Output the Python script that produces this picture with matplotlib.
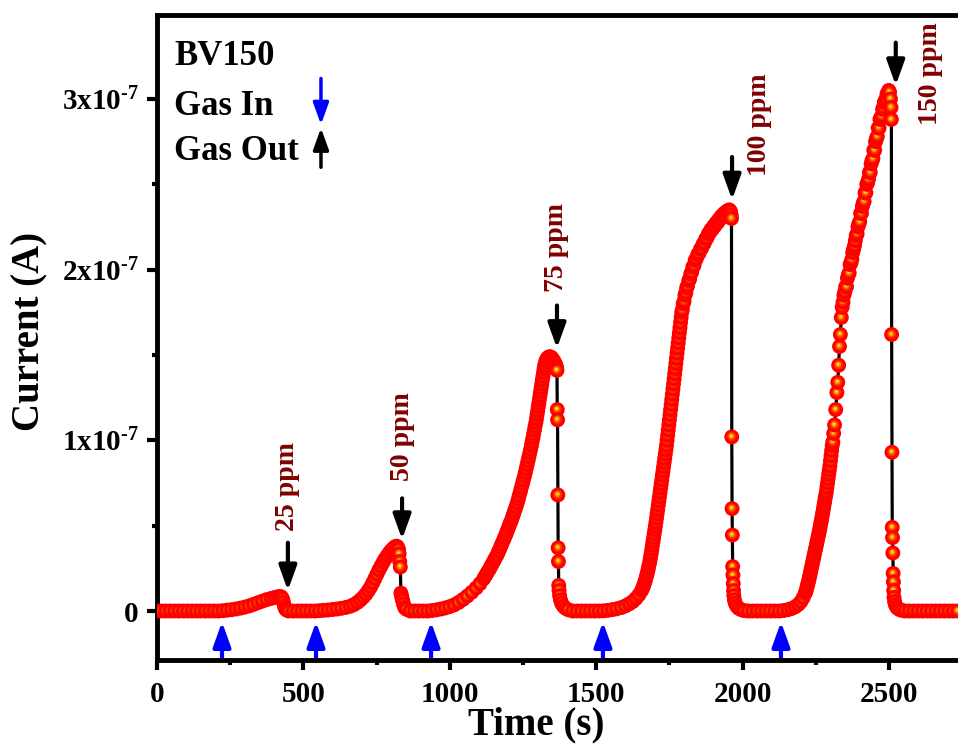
import numpy as np
import matplotlib.pyplot as plt
from matplotlib.path import Path
from matplotlib.transforms import Affine2D

plt.rcParams['font.family'] = 'Liberation Serif'
plt.rcParams['font.weight'] = 'bold'
plt.rcParams['mathtext.fontset'] = 'custom'
plt.rcParams['mathtext.rm'] = 'Liberation Serif:bold'
plt.rcParams['mathtext.default'] = 'rm'

# temps (s) et courant (en unités de 1e-7 A), cycle par cycle
t_25 = [0, 15, 30, 45, 60, 75, 90, 105, 120, 135, 150, 165, 180, 195, 210,
        225, 240, 255, 270, 285, 300, 315, 330, 345, 360, 375, 390,
        402, 412, 420, 425, 429, 432, 435, 438, 442]
i_25 = [0, 0, 0, 0, 0, 0, 0, 0, 0, 0, 0, 0, 0, 0, 0,
        0.002, 0.005, 0.008, 0.012, 0.017, 0.023, 0.03, 0.039, 0.049, 0.058, 0.067, 0.074,
        0.079, 0.083, 0.085, 0.082, 0.07, 0.05, 0.03, 0.015, 0.006]

t_50 = [450, 465, 480, 495, 510, 525, 540, 555, 570, 585, 600, 615, 630, 645, 660,
        672, 684, 695, 705, 714, 722, 730, 737, 744, 751, 758, 765, 772, 779, 786, 793,
        800, 807, 813, 818, 822, 825, 827, 829, 831, 833, 835, 837, 839, 842, 846, 852]
i_50 = [0, 0, 0, 0, 0, 0, 0, 0.002, 0.004, 0.006, 0.009, 0.012, 0.016, 0.021, 0.028,
        0.037, 0.05, 0.065, 0.082, 0.1, 0.12, 0.142, 0.165, 0.19, 0.215, 0.24, 0.263, 0.285,
        0.305, 0.323, 0.34, 0.355, 0.367, 0.376, 0.38, 0.375, 0.36, 0.335, 0.29, 0.258,
        0.105, 0.09, 0.075, 0.06, 0.04, 0.02, 0.01]

t_75 = [865, 880, 895, 910, 925, 940, 955, 970, 985, 1000,
        1015, 1030, 1045, 1060, 1075, 1090, 1103, 1116, 1122, 1128,
        1134, 1140, 1145, 1151, 1156, 1162, 1167, 1172, 1177, 1182,
        1187, 1192, 1196, 1201, 1205, 1210, 1214, 1218, 1222, 1226,
        1230, 1234, 1237, 1241, 1244, 1248, 1251, 1255, 1258, 1261,
        1264, 1267, 1270, 1273, 1276, 1279, 1281, 1284, 1286, 1289,
        1291, 1294, 1296, 1298, 1300, 1302, 1304, 1306, 1308, 1310,
        1312, 1314, 1316, 1318, 1320, 1322, 1324, 1327, 1330, 1333,
        1336, 1340, 1344, 1347, 1350, 1353, 1356, 1358, 1360, 1362,
        1364, 1365, 1366, 1367, 1368, 1369, 1370, 1371, 1372, 1373,
        1375, 1378, 1382, 1388, 1396, 1405]
i_75 = [0, 0, 0, 0, 0, 0.003, 0.007, 0.012, 0.018, 0.026,
        0.036, 0.05, 0.068, 0.088, 0.11, 0.135, 0.16, 0.19, 0.207, 0.225,
        0.242, 0.26, 0.277, 0.295, 0.312, 0.33, 0.35, 0.37, 0.39, 0.41,
        0.43, 0.45, 0.47, 0.49, 0.51, 0.53, 0.55, 0.57, 0.59, 0.61,
        0.632, 0.655, 0.677, 0.7, 0.722, 0.745, 0.767, 0.79, 0.812, 0.835,
        0.857, 0.88, 0.902, 0.925, 0.947, 0.97, 0.992, 1.015, 1.037, 1.06,
        1.082, 1.105, 1.127, 1.15, 1.172, 1.195, 1.217, 1.24, 1.262, 1.285,
        1.307, 1.33, 1.352, 1.375, 1.397, 1.42, 1.44, 1.46, 1.472, 1.48,
        1.486, 1.49, 1.488, 1.485, 1.478, 1.47, 1.462, 1.455, 1.447, 1.44,
        1.43, 1.42, 1.41, 1.18, 1.12, 0.68, 0.37, 0.29, 0.15, 0.12,
        0.09, 0.065, 0.045, 0.028, 0.015, 0.007]

t_100 = [1420, 1435, 1450, 1465, 1480, 1495, 1510, 1525, 1540, 1555,
         1570, 1585, 1600, 1613, 1625, 1636, 1646, 1655, 1659, 1662,
         1665, 1668, 1671, 1674, 1677, 1679, 1682, 1684, 1686, 1688,
         1690, 1692, 1694, 1696, 1698, 1700, 1702, 1704, 1706, 1708,
         1710, 1712, 1714, 1716, 1718, 1720, 1722, 1724, 1726, 1728,
         1730, 1732, 1734, 1736, 1738, 1740, 1742, 1744, 1746, 1748,
         1750, 1752, 1754, 1756, 1758, 1760, 1762, 1764, 1766, 1768,
         1770, 1772, 1774, 1776, 1778, 1780, 1782, 1784, 1786, 1788,
         1790, 1792, 1794, 1797, 1800, 1803, 1806, 1809, 1812, 1816,
         1819, 1823, 1826, 1830, 1834, 1838, 1842, 1847, 1851, 1856,
         1860, 1865, 1869, 1874, 1878, 1883, 1887, 1892, 1896, 1901,
         1905, 1910, 1914, 1919, 1923, 1928, 1932, 1937, 1941, 1945,
         1949, 1952, 1955, 1959, 1961, 1962, 1963, 1964, 1965, 1966,
         1967, 1968, 1969, 1970, 1972, 1975, 1980, 1987, 1996, 2006]
i_100 = [0, 0, 0, 0, 0, 0, 0, 0.001, 0.004, 0.008,
         0.013, 0.02, 0.03, 0.042, 0.056, 0.074, 0.095, 0.12, 0.135, 0.15,
         0.165, 0.18, 0.2, 0.22, 0.24, 0.26, 0.28, 0.3, 0.32, 0.34,
         0.362, 0.385, 0.407, 0.43, 0.452, 0.475, 0.497, 0.52, 0.545, 0.57,
         0.595, 0.62, 0.645, 0.67, 0.695, 0.72, 0.745, 0.77, 0.795, 0.82,
         0.845, 0.87, 0.895, 0.92, 0.945, 0.97, 1.0, 1.03, 1.06, 1.09,
         1.12, 1.15, 1.18, 1.21, 1.24, 1.27, 1.3, 1.33, 1.36, 1.39,
         1.42, 1.45, 1.48, 1.51, 1.54, 1.57, 1.6, 1.63, 1.66, 1.69,
         1.72, 1.75, 1.765, 1.8, 1.815, 1.85, 1.865, 1.895, 1.905, 1.935,
         1.945, 1.975, 1.985, 2.015, 2.025, 2.055, 2.065, 2.09, 2.095, 2.12,
         2.125, 2.15, 2.155, 2.18, 2.185, 2.21, 2.215, 2.235, 2.235, 2.255,
         2.255, 2.275, 2.275, 2.295, 2.295, 2.315, 2.315, 2.33, 2.325, 2.34,
         2.345, 2.348, 2.35, 2.34, 2.32, 2.3, 1.02, 0.6, 0.445, 0.26,
         0.21, 0.16, 0.12, 0.09, 0.065, 0.045, 0.028, 0.015, 0.007, 0.002]

t_150 = [2020, 2035, 2050, 2065, 2080, 2095, 2110, 2125, 2140, 2155,
         2168, 2180, 2190, 2199, 2207, 2214, 2217, 2220, 2222, 2224,
         2226, 2228, 2230, 2232, 2234, 2236, 2238, 2240, 2242, 2244,
         2246, 2248, 2250, 2252, 2254, 2256, 2258, 2260, 2262, 2264,
         2266, 2268, 2270, 2272, 2274, 2276, 2278, 2280, 2282, 2284,
         2286, 2288, 2290, 2292, 2294, 2296, 2298, 2300, 2302, 2304,
         2306, 2308, 2311, 2314, 2318, 2322, 2325, 2328, 2331, 2334,
         2337, 2340, 2343, 2346, 2349, 2352, 2355, 2358, 2361, 2364,
         2367, 2370, 2373, 2376, 2379, 2382, 2385, 2388, 2391, 2394,
         2397, 2400, 2403, 2406, 2409, 2412, 2415, 2418, 2421, 2424,
         2427, 2430, 2433, 2436, 2439, 2442, 2445, 2448, 2451, 2454,
         2457, 2460, 2463, 2466, 2469, 2472, 2475, 2478, 2481, 2484,
         2487, 2490, 2493, 2496, 2499, 2502, 2505, 2507, 2508, 2509,
         2510, 2511, 2512, 2513, 2514, 2515, 2516, 2517, 2519, 2522,
         2527, 2534, 2543, 2555, 2570, 2585, 2600, 2615, 2630, 2645,
         2660, 2675, 2690, 2705, 2720, 2735]
i_150 = [0, 0, 0, 0, 0, 0, 0, 0, 0.003, 0.008,
         0.015, 0.025, 0.038, 0.055, 0.078, 0.105, 0.12, 0.14, 0.153, 0.167,
         0.18, 0.196, 0.212, 0.228, 0.244, 0.26, 0.276, 0.292, 0.308, 0.324,
         0.34, 0.356, 0.372, 0.388, 0.404, 0.42, 0.436, 0.452, 0.468, 0.486,
         0.504, 0.522, 0.54, 0.56, 0.58, 0.6, 0.62, 0.64, 0.66, 0.68,
         0.7, 0.725, 0.75, 0.775, 0.8, 0.825, 0.85, 0.88, 0.91, 0.94,
         0.97, 0.99, 1.04, 1.09, 1.18, 1.28, 1.34, 1.44, 1.55, 1.62,
         1.72, 1.78, 1.81, 1.85, 1.87, 1.9, 1.9, 1.95, 1.97, 1.98,
         2.03, 2.04, 2.06, 2.1, 2.12, 2.14, 2.17, 2.2, 2.21, 2.25,
         2.27, 2.28, 2.33, 2.33, 2.37, 2.39, 2.4, 2.45, 2.45, 2.5,
         2.51, 2.53, 2.57, 2.57, 2.62, 2.64, 2.65, 2.7, 2.7, 2.75,
         2.77, 2.78, 2.83, 2.83, 2.88, 2.89, 2.9, 2.94, 2.95, 2.98,
         2.99, 3.0, 3.03, 3.03, 3.05, 3.04, 3.0, 2.95, 2.88, 1.62,
         0.93, 0.49, 0.43, 0.34, 0.22, 0.17, 0.12, 0.08, 0.055, 0.035,
         0.02, 0.01, 0.004, 0, 0, 0, 0, 0, 0, 0,
         0, 0, 0, 0, 0, 0]

# flèches : entrée du gaz (bleu) et sortie (noir), étiquettes de concentration
gas_in_t = [222, 543, 936, 1523, 2131]
gas_out_t = [447, 837, 1366, 1964, 2523]
gas_out_top = [0.40, 0.66, 1.79, 2.66, 3.33]
gas_out_tip = [0.12, 0.42, 1.54, 2.41, 3.08]
conc_labels = ['25 ppm', '50 ppm', '75 ppm', '100 ppm', '150 ppm']
label_t = [447, 837, 1363, 2059, 2640]
label_i = [0.73, 1.02, 2.13, 2.85, 3.15]

E7 = 1e-7
t = np.concatenate([t_25, t_50, t_75, t_100, t_150])
cur = np.concatenate([i_25, i_50, i_75, i_100, i_150]) * E7

fig = plt.figure(figsize=(9.58, 7.56), dpi=100)
ax = fig.add_axes([157 / 958, 96 / 756, 801 / 958, 645 / 756])

ax.plot(t, cur, color='black', lw=2.3, zorder=2)

# marqueurs "boule" : disque rouge + petit reflet orange/jaune, dessinés point par point
sc = ax.scatter(np.repeat(t, 4), np.repeat(cur, 4), s=115, linewidths=0, zorder=3)
circ = Path.unit_circle()
sc.set_paths([circ.transformed(Affine2D().scale(0.5)),
              circ.transformed(Affine2D().scale(0.3).translate(-0.01, 0.03)),
              circ.transformed(Affine2D().scale(0.19).translate(-0.03, 0.05)),
              circ.transformed(Affine2D().scale(0.09).translate(-0.04, 0.07))])
sc.set_facecolor(['#ff0000', '#ff3000', '#ff8c00', '#ffdc30'])

arrow_style = '-|>,head_length=0.5,head_width=0.18'
for x in gas_in_t:
    ax.annotate('', xy=(x, -0.064 * E7), xytext=(x, -0.29 * E7),
                arrowprops=dict(arrowstyle=arrow_style, color='#0000ff', lw=3,
                                mutation_scale=30, shrinkA=0, shrinkB=0),
                annotation_clip=False, zorder=1)
for x, y0, y1 in zip(gas_out_t, gas_out_top, gas_out_tip):
    ax.annotate('', xy=(x, y1 * E7), xytext=(x, y0 * E7),
                arrowprops=dict(arrowstyle=arrow_style, color='black', lw=3,
                                mutation_scale=30, shrinkA=0, shrinkB=0), zorder=4)
for lab, x, y in zip(conc_labels, label_t, label_i):
    ax.text(x, y * E7, lab, rotation=90, ha='center', va='center',
            color='#800000', fontsize=20, fontweight='bold')

# légende faite à la main
ax.text(58, 3.20 * E7, 'BV150', fontsize=25, fontweight='bold', va='baseline')
ax.text(58, 2.906 * E7, 'Gas In', fontsize=25, fontweight='bold', va='baseline')
ax.text(58, 2.642 * E7, 'Gas Out', fontsize=25, fontweight='bold', va='baseline')
ax.annotate('', xy=(560, 2.85 * E7), xytext=(560, 3.12 * E7),
            arrowprops=dict(arrowstyle=arrow_style, color='#0000ff', lw=2.5,
                            mutation_scale=26, shrinkA=0, shrinkB=0))
ax.annotate('', xy=(560, 2.83 * E7), xytext=(560, 2.60 * E7),
            arrowprops=dict(arrowstyle=arrow_style, color='black', lw=2.5,
                            mutation_scale=26, shrinkA=0, shrinkB=0))

ax.set_xlim(0, 2735.6)
ax.set_ylim(-0.287 * E7, 3.492 * E7)
ax.set_xticks([0, 500, 1000, 1500, 2000, 2500])
ax.set_xticks([250, 750, 1250, 1750, 2250], minor=True)
ax.set_yticks([0, 1 * E7, 2 * E7, 3 * E7],
              labels=['0', '1x10$^{\u20107}$', '2x10$^{\u20107}$', '3x10$^{\u20107}$'])
ax.set_yticks([0.5 * E7, 1.5 * E7, 2.5 * E7], minor=True)

for side in ['left', 'bottom', 'top']:
    ax.spines[side].set_linewidth(3.5)
ax.spines['right'].set_visible(False)
ax.tick_params(which='both', direction='out', top=False, right=False, width=3)
ax.tick_params(which='major', length=7, labelsize=21)
ax.tick_params(which='minor', length=3.5)
ax.tick_params(axis='x', which='major', pad=8)
ax.tick_params(axis='y', which='major', pad=6)

ax.set_xlabel('Time (s)', fontsize=28, fontweight='bold')
ax.set_ylabel('Current (A)', fontsize=28, fontweight='bold')
ax.xaxis.set_label_coords(0.474, -0.072)
ax.yaxis.set_label_coords(-0.135, 0.51)

fig.savefig('out.png', dpi=100)
